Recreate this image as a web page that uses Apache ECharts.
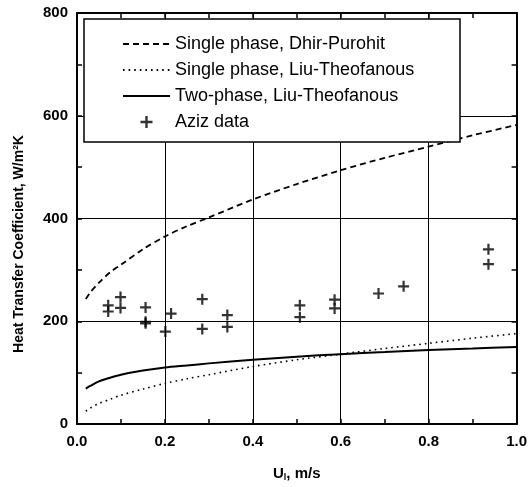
<!DOCTYPE html>
<html>
<head>
<meta charset="utf-8">
<script src="https://cdn.jsdelivr.net/npm/echarts@6/dist/echarts.min.js"></script>
<style>
html,body{margin:0;padding:0;background:#fff;}
#chart{width:530px;height:487px;}
</style>
</head>
<body>
<div id="chart"></div>
<script>
// Curve sample positions (U_l, m/s) and values
var curveX = [0.02, 0.03, 0.05, 0.075, 0.1, 0.15, 0.2, 0.25, 0.3, 0.4, 0.5, 0.6, 0.7, 0.8, 0.9, 1.0];
var dhirPurohit = [243, 256, 275, 295, 310, 340, 365, 385, 402, 437, 467, 494, 518, 540, 562, 582];
var liuSingle   = [25, 31, 40, 48, 56, 68, 79, 88, 96, 112, 125, 136, 147, 157, 167, 176];
var liuTwo      = [69, 74, 83, 90, 96, 104, 110, 114, 118, 125, 131, 136, 140, 144, 147, 150];

// Aziz data points
var azizU = [0.071, 0.071, 0.099, 0.099, 0.156, 0.156, 0.156, 0.201, 0.214, 0.285, 0.285, 0.342, 0.342, 0.507, 0.507, 0.586, 0.586, 0.686, 0.743, 0.936, 0.936];
var azizH = [231, 219, 247, 226, 227, 199, 196, 180, 215, 243, 185, 212, 189, 231, 208, 242, 225, 254, 268, 340, 311];

var seriesNames = ['Single phase, Dhir-Purohit', 'Single phase, Liu-Theofanous', 'Two-phase, Liu-Theofanous', 'Aziz data'];
var yTicks = [0, 200, 400, 600, 800];
var xTicks = [0.0, 0.2, 0.4, 0.6, 0.8, 1.0];

function pairs(xs, ys) { return xs.map(function (x, i) { return [x, ys[i]]; }); }

var FONT = 'Arial, "Liberation Sans", sans-serif';
var plusPath = 'path://M4,0H6V4H10V6H6V10H4V6H0V4H4Z';
var hidden = {color: 'rgba(0,0,0,0)', borderColor: 'rgba(0,0,0,0)', borderWidth: 0, opacity: 0};

var chart = echarts.init(document.getElementById('chart'), null, {renderer: 'canvas'});

function baseX(pos, showLabel) {
  return {
    type: 'value', position: pos, min: 0, max: 1, interval: 0.2,
    axisLine: {show: true, onZero: false, lineStyle: {color: '#000', width: 2}},
    axisTick: {show: true, inside: true, length: 5, lineStyle: {color: '#000', width: 1.5}},
    minorTick: {show: true, splitNumber: 2, length: 5, lineStyle: {color: '#000', width: 1.5}},
    axisLabel: {show: showLabel, color: '#000', fontFamily: FONT, fontWeight: 'bold', fontSize: 15, margin: 10,
      formatter: function (v) { return v.toFixed(1); }},
    splitLine: {show: showLabel, lineStyle: {color: '#000', width: 1}}
  };
}
function baseY(pos, showLabel) {
  return {
    type: 'value', position: pos, min: 0, max: 800, interval: 200,
    axisLine: {show: true, onZero: false, lineStyle: {color: '#000', width: 2}},
    axisTick: {show: true, inside: true, length: 5, lineStyle: {color: '#000', width: 1.5}},
    minorTick: {show: true, splitNumber: 2, length: 5, lineStyle: {color: '#000', width: 1.5}},
    axisLabel: {show: showLabel, color: '#000', fontFamily: FONT, fontWeight: 'bold', fontSize: 15, margin: 9},
    splitLine: {show: showLabel, lineStyle: {color: '#000', width: 1}}
  };
}

var xMain = baseX('bottom', true);
xMain.name = '{a|U}{s|l}{a|, m/s}';
xMain.nameLocation = 'middle';
xMain.nameGap = 41;
xMain.nameTextStyle = {rich: {
  a: {fontFamily: FONT, fontWeight: 'bold', fontSize: 15, color: '#000'},
  s: {fontFamily: FONT, fontWeight: 'bold', fontSize: 9, color: '#000', verticalAlign: 'bottom', padding: [8, 0, 0, 0]}
}};

var option = {
  backgroundColor: '#fff',
  animation: false,
  grid: {left: 77, top: 13, right: 10, bottom: 56, containLabel: false},
  xAxis: [xMain, baseX('top', false)],
  yAxis: [baseY('left', true), baseY('right', false)],
  legend: {
    orient: 'vertical', left: 84, top: 19,
    padding: [15, 10, 13, 38],
    itemWidth: 47, itemHeight: 12, itemGap: 6,
    textStyle: {fontFamily: FONT, fontSize: 18, color: '#000', lineHeight: 20},
    data: [
      {name: seriesNames[0], itemStyle: hidden},
      {name: seriesNames[1], itemStyle: hidden},
      {name: seriesNames[2], itemStyle: hidden},
      {name: seriesNames[3], icon: plusPath, itemStyle: {color: '#000'}}
    ],
    z: 10
  },
  graphic: [
    {type: 'rect', shape: {x: 84, y: 19, width: 376, height: 123},
      style: {fill: '#fff', stroke: '#000', lineWidth: 1.5}, z: 5, silent: true},
    {type: 'text', x: 19, y: 244, rotation: Math.PI / 2,
      style: {text: 'Heat Transfer Coefficient, W/m\u00B2K', font: 'bold 14px ' + FONT, fill: '#000',
        textAlign: 'center', textVerticalAlign: 'middle'}, z: 10}
  ],
  series: [
    {name: seriesNames[0], type: 'line', data: pairs(curveX, dhirPurohit), symbol: 'none', smooth: 0.3,
      lineStyle: {color: '#000', width: 1.8, type: [6, 4]}, itemStyle: {color: '#000'}, z: 3},
    {name: seriesNames[1], type: 'line', data: pairs(curveX, liuSingle), symbol: 'none', smooth: 0.3,
      lineStyle: {color: '#000', width: 1.6, type: [1.6, 4]}, itemStyle: {color: '#000'}, z: 3},
    {name: seriesNames[2], type: 'line', data: pairs(curveX, liuTwo), symbol: 'none', smooth: 0.3,
      lineStyle: {color: '#000', width: 2, type: 'solid'}, itemStyle: {color: '#000'}, z: 3},
    {name: seriesNames[3], type: 'scatter', data: pairs(azizU, azizH), symbol: plusPath, symbolSize: 11,
      itemStyle: {color: '#000'}, z: 3}
  ]
};
chart.setOption(option);
</script>
</body>
</html>
